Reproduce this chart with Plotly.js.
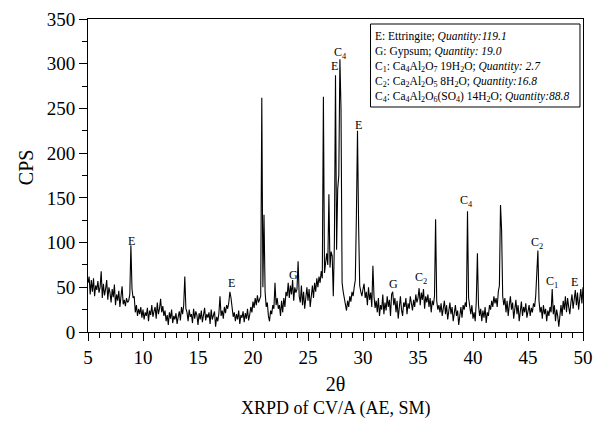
<!DOCTYPE html>
<html>
<head>
<meta charset="utf-8">
<script src="https://cdn.plot.ly/plotly-3.0.1.min.js"></script>
<style>html,body{margin:0;padding:0;background:#fff}#chart{width:600px;height:426px}</style>
</head>
<body>
<div id="chart"></div>
<script>
// XRPD scan: 2θ from 5° to 50° in 0.1° steps
const twoThetaStart = 5;
const twoThetaStep = 0.1;
const cps = [
  55, 62, 42, 58, 45, 60, 40, 52, 47, 57,   // 5
  44, 50, 68, 38, 54, 41, 48, 58, 36, 50,   // 6
  44, 33, 48, 39, 53, 30, 42, 35, 46, 28,   // 7
  40, 51, 31, 36, 29, 38, 33, 35, 42, 97,   // 8
  48, 38, 40, 22, 30, 18, 26, 20, 28, 16,   // 9
  25, 14, 22, 18, 27, 12, 24, 19, 30, 17,   // 10
  23, 28, 15, 33, 20, 26, 37, 22, 29, 18,   // 11
  24, 12, 19, 8, 22, 15, 25, 10, 18, 14,    // 12
  21, 9, 17, 23, 13, 28, 20, 30, 62, 26,    // 13
  22, 12, 25, 17, 20, 10, 26, 15, 23, 19,   // 14
  8, 21, 14, 24, 11, 18, 27, 13, 20, 16,    // 15
  22, 9, 25, 14, 19, 23, 6, 17, 12, 21,     // 16
  40, 18, 24, 15, 28, 21, 30, 26, 33, 45,   // 17
  38, 25, 17, 22, 12, 20, 14, 24, 9, 19,    // 18
  16, 23, 11, 21, 15, 26, 13, 19, 28, 22,   // 19
  34, 27, 38, 30, 41, 33, 36, 40, 262, 50,  // 20
  131, 45, 28, 33, 18, 12, 24, 20, 30, 26,  // 21
  55, 30, 38, 26, 30, 18, 35, 22, 38, 28,   // 22
  45, 40, 55, 38, 52, 42, 58, 35, 50, 44,   // 23
  48, 79, 40, 33, 52, 30, 45, 26, 38, 50,   // 24
  35, 48, 28, 42, 52, 38, 55, 45, 60, 50,   // 25
  62, 55, 68, 60, 263, 66, 78, 88, 75, 154, // 26
  72, 90, 85, 40, 100, 287, 92, 160, 175, 305, // 27
  250, 55, 45, 38, 28, 24, 35, 28, 40, 34,  // 28
  45, 40, 50, 58, 130, 225, 120, 52, 45, 40, // 29
  48, 54, 38, 45, 30, 50, 36, 44, 28, 74,   // 30
  40, 27, 35, 22, 38, 18, 30, 25, 42, 20,   // 31
  33, 24, 40, 28, 36, 18, 42, 45, 30, 38,   // 32
  22, 35, 15, 30, 40, 25, 18, 33, 28, 38,   // 33
  20, 32, 26, 40, 30, 24, 36, 28, 42, 33,   // 34
  38, 49, 30, 44, 36, 48, 26, 40, 33, 42,   // 35
  28, 38, 22, 35, 30, 40, 126, 35, 25, 30,  // 36
  22, 32, 18, 28, 35, 20, 30, 14, 26, 33,   // 37
  20, 28, 12, 25, 30, 18, 24, 8, 22, 28,    // 38
  16, 30, 25, 33, 28, 135, 38, 26, 20, 30,  // 39
  15, 22, 12, 35, 88, 30, 18, 26, 12, 24,   // 40
  16, 28, 10, 22, 18, 30, 25, 35, 28, 40,   // 41
  32, 38, 28, 45, 52, 142, 114, 40, 30, 38, // 42
  22, 35, 18, 30, 40, 25, 33, 15, 28, 36,   // 43
  20, 30, 12, 26, 34, 18, 28, 22, 32, 16,   // 44
  25, 30, 18, 27, 22, 32, 28, 40, 66, 91,   // 45
  35, 22, 28, 15, 30, 20, 26, 12, 24, 18,   // 46
  28, 22, 48, 20, 30, 12, 25, 18, 6, 22,    // 47
  30, 18, 35, 25, 40, 22, 38, 28, 20, 33,   // 48
  42, 26, 38, 47, 30, 44, 25, 36, 48, 32,   // 49
  50                                        // 50
];
const twoTheta = cps.map((_, i) => +(twoThetaStart + i * twoThetaStep).toFixed(2));

// Phase labels placed above peaks
const peakLabels = ["E", "E", "G", "E", "C<sub>4</sub>", "E", "G", "C<sub>2</sub>", "C<sub>4</sub>", "C<sub>2</sub>", "C<sub>1</sub>", "E"];
const peakLabelX = [8.95, 18.05, 23.64, 27.43, 27.94, 29.55, 32.73, 35.25, 39.4, 45.85, 47.22, 49.27];
const peakLabelY = [102, 55, 64, 297, 312, 232, 54, 60, 147, 99, 56, 56];

// Legend box text
const legendLines = [
  "E: Ettringite; <i>Quantity:119.1</i>",
  "G: Gypsum; <i>Quantity: 19.0</i>",
  "C<sub>1</sub>: Ca<sub>4</sub>Al<sub>2</sub>O<sub>7</sub> 19H<sub>2</sub>O; <i>Quantity: 2.7</i>",
  "C<sub>2</sub>: Ca<sub>2</sub>Al<sub>2</sub>O<sub>5</sub> 8H<sub>2</sub>O; <i>Quantity:16.8</i>",
  "C<sub>4</sub>: Ca<sub>4</sub>Al<sub>2</sub>O<sub>6</sub>(SO<sub>4</sub>) 14H<sub>2</sub>O; <i>Quantity:88.8</i>"
];

const FONT = "'Liberation Serif', 'Times New Roman', Times, serif";

const annotations = [];
peakLabels.forEach((t, i) => annotations.push({
  x: peakLabelX[i], y: peakLabelY[i], xref: "x", yref: "y", text: t,
  showarrow: false, xanchor: "center", yanchor: "middle",
  font: {family: FONT, size: 12, color: "#000"}
}));
annotations.push({
  x: 0.5758, y: 0.848, xref: "paper", yref: "paper", text: legendLines.join("<br>"),
  showarrow: false, xanchor: "left", yanchor: "middle", align: "left",
  font: {family: FONT, size: 11.5, color: "#000"}
});
annotations.push({
  x: 0.5, y: -0.243, xref: "paper", yref: "paper", text: "XRPD of CV/A (AE, SM)",
  showarrow: false, xanchor: "center", yanchor: "middle",
  font: {family: FONT, size: 18, color: "#000"}
});
annotations.push({
  x: -0.125, y: 0.527, xref: "paper", yref: "paper", text: "CPS", textangle: -90,
  showarrow: false, xanchor: "center", yanchor: "middle",
  font: {family: FONT, size: 20, color: "#000"}
});

const trace = {
  x: twoTheta, y: cps, type: "scatter", mode: "lines",
  line: {color: "#000", width: 1.1},
  hoverinfo: "x+y", showlegend: false
};

const axisCommon = {
  showgrid: false, zeroline: false, showline: true, linecolor: "#000", linewidth: 1,
  mirror: true, ticks: "outside", tickcolor: "#000", tickwidth: 1, ticklen: 8,
  tickfont: {family: FONT, size: 19, color: "#000"}
};

const layout = {
  width: 600, height: 426,
  margin: {l: 88, r: 17, t: 19, b: 94, pad: 0},
  paper_bgcolor: "#fff", plot_bgcolor: "#fff",
  font: {family: FONT, color: "#000"},
  xaxis: Object.assign({}, axisCommon, {
    range: [5, 50], tick0: 5, dtick: 5,
    minor: {ticks: "outside", dtick: 1, ticklen: 5, tickcolor: "#000", tickwidth: 1},
    title: {text: "2θ", font: {family: FONT, size: 20, color: "#000"}, standoff: 10}
  }),
  yaxis: Object.assign({}, axisCommon, {
    range: [0, 350], tick0: 0, dtick: 50,
    minor: {ticks: "outside", dtick: 25, ticklen: 5, tickcolor: "#000", tickwidth: 1},
    ticklabelstandoff: 0
  }),
  shapes: [{
    type: "rect", xref: "paper", yref: "paper",
    x0: 0.5707, x1: 0.9939, y0: 0.7188, y1: 0.984,
    line: {color: "#000", width: 1}, fillcolor: "#fff", layer: "below"
  }],
  annotations: annotations
};

Plotly.newPlot("chart", [trace], layout, {displayModeBar: false, staticPlot: true});
</script>
</body>
</html>
